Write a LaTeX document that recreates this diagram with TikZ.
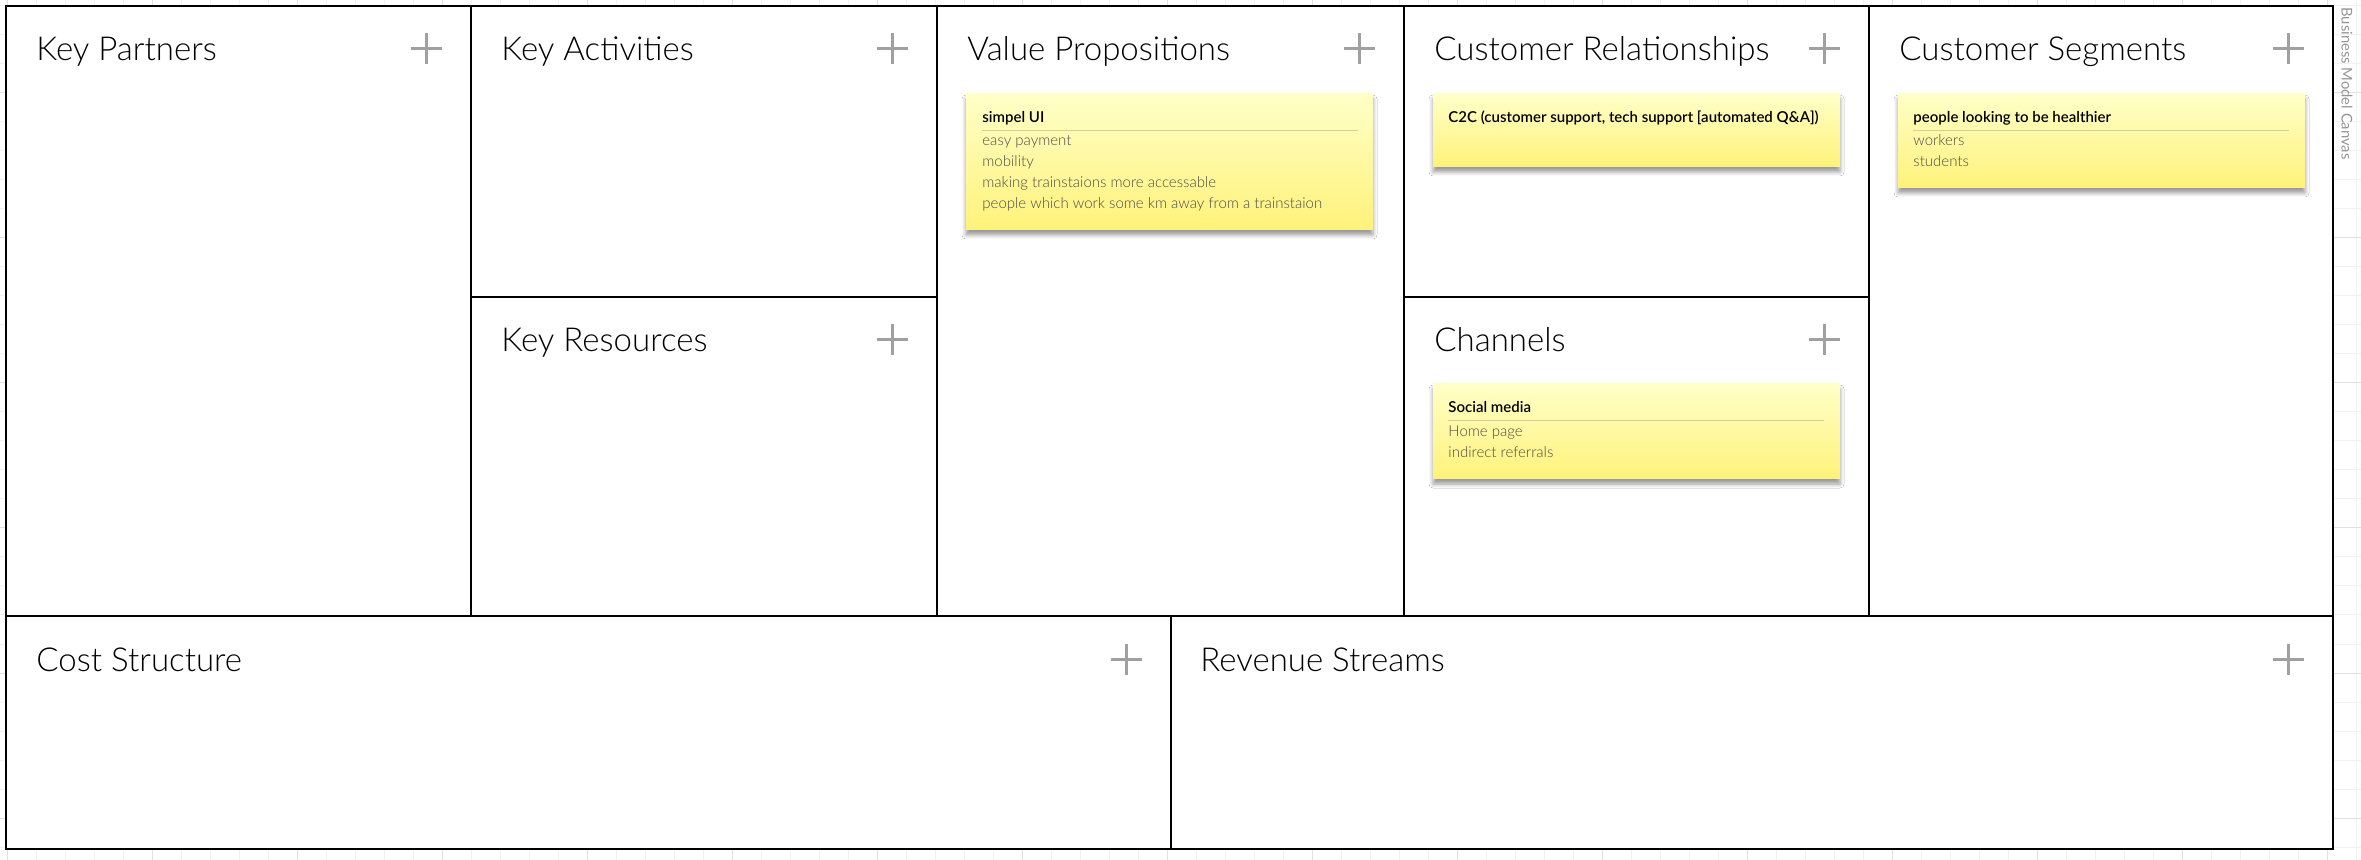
\documentclass[tikz,border=0pt]{standalone}
\usepackage{fontspec}
\setmainfont{Lato}
\newfontfamily\latolight{Lato Light}
\newfontfamily\latomedium{Lato Semibold}
\usetikzlibrary{shadows.blur}

\definecolor{gridminor}{HTML}{F1F1F1}
\definecolor{gridmajor}{HTML}{E0E0E0}
\definecolor{plusgray}{HTML}{A0A0A0}
\definecolor{notetop}{HTML}{FFFFC8}
\definecolor{notebottom}{HTML}{FFF27A}
\definecolor{noteline}{HTML}{D4CE9C}
\definecolor{notetext}{HTML}{4A4A4A}
\definecolor{sidegray}{HTML}{959595}

\newcommand{\plusmark}[2]{\draw[plusmark] (#1,#2) ++(-15.5,0) -- ++(31,0) ++(-15.5,-15.5) -- ++(0,31);}

\begin{document}
\begin{tikzpicture}[x=0.5pt,y=-0.5pt,
	boxtitle/.style={anchor=base west, inner sep=0pt, font=\fontsize{16.5}{20}\selectfont\latolight},
	plusmark/.style={draw=plusgray, line width=1.5pt},
	sticky/.style={top color=notetop, bottom color=notebottom,
		blur shadow={shadow xshift=0pt, shadow yshift=-2.5pt, shadow blur radius=2pt, shadow opacity=40}},
	notehead/.style={anchor=base west, inner sep=0pt, font=\fontsize{7.5}{9}\selectfont\latomedium},
	noteitem/.style={anchor=base west, inner sep=0pt, text=notetext, font=\fontsize{7.5}{9}\selectfont\latolight}]
	\useasboundingbox (0,0) rectangle (2361,860);
	
	\foreach \gx in {7,36,...,2361} \draw[gridminor, line width=0.5pt] (\gx,0) -- (\gx,860);
	\foreach \gy in {6,35,...,860} \draw[gridminor, line width=0.5pt] (0,\gy) -- (2361,\gy);
	\foreach \gx in {7,152,...,2361} \draw[gridmajor, line width=0.5pt] (\gx,0) -- (\gx,860);
	\foreach \gy in {93,238,...,860} \draw[gridmajor, line width=0.5pt] (0,\gy) -- (2361,\gy);
	
	\filldraw[fill=white, draw=black, line width=1pt] (6,6) rectangle (2333,849);
	\draw[black, line width=1pt] (6,616) -- (2333,616);
	\draw[black, line width=1pt] (471,6) -- (471,616);
	\draw[black, line width=1pt] (937,6) -- (937,616);
	\draw[black, line width=1pt] (1404,6) -- (1404,616);
	\draw[black, line width=1pt] (1869,6) -- (1869,616);
	\draw[black, line width=1pt] (471,297) -- (937,297);
	\draw[black, line width=1pt] (1404,297) -- (1869,297);
	\draw[black, line width=1pt] (1171,616) -- (1171,849);
	
	\node[boxtitle] (partners) at (36,61) {Key Partners};
	\node[boxtitle] (activities) at (501,61) {Key Activities};
	\node[boxtitle] (resources) at (501,352) {Key Resources};
	\node[boxtitle] (propositions) at (967,61) {Value Propositions};
	\node[boxtitle] (relationships) at (1434,61) {Customer Relationships};
	\node[boxtitle] (channels) at (1434,352) {Channels};
	\node[boxtitle] (segments) at (1899,61) {Customer Segments};
	\node[boxtitle] (costs) at (36,671) {Cost Structure};
	\node[boxtitle] (revenue) at (1200,671) {Revenue Streams};
	
	\plusmark{426}{49}
	\plusmark{892}{49}
	\plusmark{892}{340}
	\plusmark{1359}{49}
	\plusmark{1824}{49}
	\plusmark{1824}{340}
	\plusmark{2288}{49}
	\plusmark{1126}{659}
	\plusmark{2288}{659}
	
	\path[sticky] (966,94) rectangle (1373,230);
	\node[notehead] (vp-head) at (982,123) {simpel UI};
	\draw[noteline, line width=0.5pt] (982,130.5) -- (1358,130.5);
	\node[noteitem] (vp-a) at (982,146) {easy payment};
	\node[noteitem] (vp-b) at (982,167) {mobility};
	\node[noteitem] (vp-c) at (982,188) {making trainstaions more accessable};
	\node[noteitem] (vp-d) at (982,209) {people which work some km away from a trainstaion};
	
	\path[sticky] (1433,94) rectangle (1840,167);
	\node[notehead] (cr-head) at (1448,123) {C2C (customer support, tech support [automated Q\&A])};
	
	\path[sticky] (1898,94) rectangle (2305,188);
	\node[notehead] (cs-head) at (1913,123) {people looking to be healthier};
	\draw[noteline, line width=0.5pt] (1913,130.5) -- (2289,130.5);
	\node[noteitem] (cs-a) at (1913,146) {workers};
	\node[noteitem] (cs-b) at (1913,167) {students};
	
	\path[sticky] (1433,384) rectangle (1840,479);
	\node[notehead] (ch-head) at (1448,413) {Social media};
	\draw[noteline, line width=0.5pt] (1448,420.5) -- (1824,420.5);
	\node[noteitem] (ch-a) at (1448,437) {Home page};
	\node[noteitem] (ch-b) at (1448,458) {indirect referrals};
	
	\node[anchor=west, rotate=-90, inner sep=0pt, text=sidegray, font=\fontsize{7.4}{9}\selectfont] (canvasname) at (2347,7) {Business Model Canvas};
\end{tikzpicture}
\end{document}
